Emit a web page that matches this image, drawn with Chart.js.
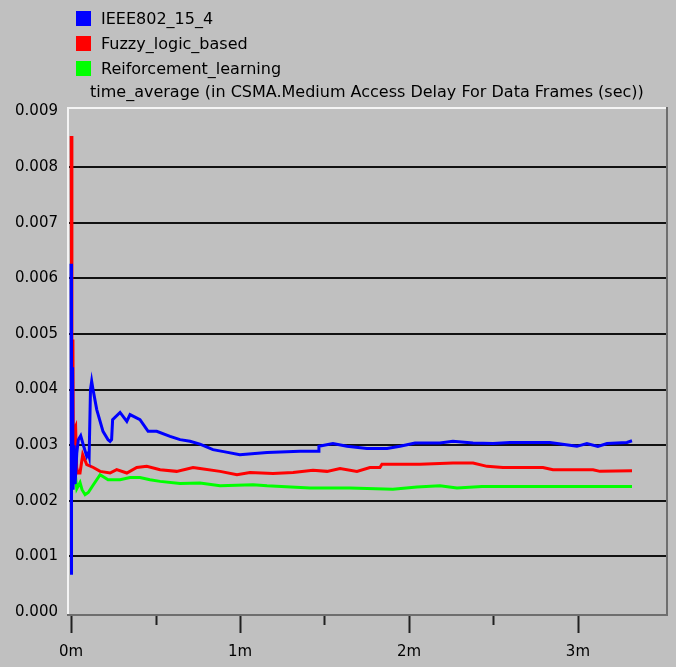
<!DOCTYPE html>
<html>
<head>
<meta charset="utf-8">
<script src="https://cdn.jsdelivr.net/npm/chart.js@4"></script>
<style>
  html,body{margin:0;padding:0;background:#c0c0c0;}
  #wrap{position:relative;width:676px;height:667px;}
  #legend{position:absolute;left:76px;top:6px;font-family:"DejaVu Sans",sans-serif;font-size:16px;color:#000;}
  .item{height:25px;display:flex;align-items:center;}
  .sw{width:15px;height:15px;margin-right:10px;}
  #ttl{position:absolute;left:90px;top:82px;font-family:"DejaVu Sans",sans-serif;font-size:16px;white-space:nowrap;}
</style>
</head>
<body>
<div id="wrap">
  <canvas id="c" width="676" height="667"></canvas>
  <div id="legend"></div>
  <div id="ttl">time_average (in CSMA.Medium Access Delay For Data Frames (sec))</div>
</div>
<script>
// series names / colours
const seriesNames = ['IEEE802_15_4','Fuzzy_logic_based','Reiforcement_learning'];
const seriesColors = ['#0000ff','#ff0000','#00ff00'];

// simulation time in minutes (sec)
const ieeeT = [0,0.0018,0.0036,0.006,0.009,0.012,0.018,0.024,0.034,0.043,0.057,0.073,0.093,0.102,0.107,0.115,0.122,0.130,0.152,0.189,0.219,0.231,0.240,0.246,0.290,0.330,0.349,0.408,0.456,0.507,0.586,0.645,0.704,0.763,0.840,0.911,0.999,1.160,1.355,1.462,1.467,1.550,1.633,1.751,1.870,1.947,2.036,2.183,2.260,2.379,2.497,2.598,2.834,2.994,3.053,3.118,3.172,3.290,3.320];
const ieeeV = [0.00626,0.00067,0.0031,0.0023,0.0044,0.0022,0.0030,0.0023,0.00286,0.0031,0.00317,0.0030,0.0028,0.00286,0.0028,0.0040,0.00415,0.0040,0.00364,0.00325,0.0031,0.00307,0.0031,0.00346,0.00359,0.00343,0.00355,0.00346,0.00325,0.00325,0.00316,0.0031,0.00307,0.00302,0.00292,0.00288,0.00283,0.00287,0.00289,0.00289,0.00298,0.00303,0.00298,0.00294,0.00294,0.00298,0.00304,0.00304,0.00307,0.00304,0.00303,0.00305,0.00305,0.00298,0.00303,0.00298,0.00303,0.00305,0.00308];

const fuzzyT = [0.001,0.005,0.011,0.014,0.021,0.027,0.033,0.041,0.053,0.069,0.093,0.132,0.172,0.231,0.270,0.330,0.389,0.448,0.527,0.625,0.722,0.763,0.882,0.982,1.059,1.195,1.314,1.432,1.515,1.592,1.692,1.769,1.828,1.840,2.065,2.260,2.379,2.462,2.556,2.793,2.852,3.089,3.130,3.320];
const fuzzyV = [0.00856,0.0030,0.0049,0.0027,0.0033,0.00334,0.0026,0.0025,0.0025,0.00283,0.00265,0.0026,0.00253,0.0025,0.00256,0.0025,0.0026,0.00262,0.00256,0.00253,0.0026,0.00258,0.00253,0.00247,0.00251,0.00249,0.00251,0.00255,0.00253,0.00258,0.00253,0.0026,0.0026,0.00266,0.00266,0.00268,0.00268,0.00262,0.0026,0.0026,0.00256,0.00256,0.00253,0.00254];

const rlT = [0.024,0.034,0.053,0.065,0.083,0.102,0.132,0.172,0.219,0.290,0.349,0.408,0.467,0.527,0.645,0.763,0.882,1.077,1.160,1.414,1.651,1.905,2.047,2.183,2.284,2.432,3.320];
const rlV = [0.0025,0.00222,0.00233,0.0022,0.00211,0.00215,0.00229,0.00247,0.00238,0.00238,0.00242,0.00242,0.00238,0.00235,0.00231,0.00232,0.00227,0.00229,0.00227,0.00223,0.00223,0.00221,0.00225,0.00227,0.00223,0.00226,0.00226];

const yTicks = [0,0.001,0.002,0.003,0.004,0.005,0.006,0.007,0.008,0.009];
const xMajor = [0,1,2,3];
const xMinor = [0.5,1.5,2.5];
const xLabels = ['0m','1m','2m','3m'];

function pts(t,v){ return t.map((x,i)=>({x:x,y:v[i]})); }

// legend
const lg = document.getElementById('legend');
seriesNames.forEach((n,i)=>{
  const d=document.createElement('div'); d.className='item';
  d.innerHTML='<span class="sw" style="background:'+seriesColors[i]+'"></span>'+n;
  lg.appendChild(d);
});

// frame + x tick marks
const framePlugin = {
  id:'frame',
  afterDraw(chart){
    const a=chart.chartArea, ctx=chart.ctx, xs=chart.scales.x;
    ctx.save();
    ctx.lineWidth=2;
    ctx.strokeStyle='#f4f4f4';
    ctx.beginPath(); ctx.moveTo(a.left+1,a.bottom); ctx.lineTo(a.left+1,a.top+1); ctx.lineTo(a.right,a.top+1); ctx.stroke();
    ctx.strokeStyle='#6e6e6e';
    ctx.beginPath(); ctx.moveTo(a.left,a.bottom-1); ctx.lineTo(a.right-1,a.bottom-1); ctx.lineTo(a.right-1,a.top); ctx.stroke();
    ctx.strokeStyle='#202020';
    xMajor.forEach(v=>{ const p=Math.round(xs.getPixelForValue(v))+0.5;
      ctx.beginPath(); ctx.moveTo(p,a.bottom); ctx.lineTo(p,a.bottom+17); ctx.stroke(); });
    xMinor.forEach(v=>{ const p=Math.round(xs.getPixelForValue(v))+0.5;
      ctx.beginPath(); ctx.moveTo(p,a.bottom); ctx.lineTo(p,a.bottom+9); ctx.stroke(); });
    ctx.restore();
  }
};

const tickFont = {family:'"DejaVu Sans", sans-serif', size:15};

new Chart(document.getElementById('c').getContext('2d'),{
  type:'line',
  data:{datasets:[
    {label:seriesNames[0],data:pts(ieeeT,ieeeV),borderColor:seriesColors[0]},
    {label:seriesNames[1],data:pts(fuzzyT,fuzzyV),borderColor:seriesColors[1]},
    {label:seriesNames[2],data:pts(rlT,rlV),borderColor:seriesColors[2]}
  ].map(d=>Object.assign(d,{borderWidth:3,pointRadius:0,tension:0,fill:false}))},
  options:{
    responsive:false, animation:false,
    layout:{padding:{left:0,top:107,right:8,bottom:0}},
    plugins:{legend:{display:false},tooltip:{enabled:false}},
    scales:{
      x:{type:'linear',min:-0.024,max:3.533,
        afterBuildTicks:ax=>{ ax.ticks = xMajor.map(v=>({value:v})); },
        afterFit:s=>{ s.height=51; },
        grid:{display:false,drawTicks:false},
        border:{display:false},
        ticks:{padding:27,color:'#000',font:tickFont,maxRotation:0,
          callback:(v)=>xLabels[xMajor.indexOf(v)]}
      },
      y:{type:'linear',min:-0.00007,max:0.00908,
        afterBuildTicks:ax=>{ ax.ticks = yTicks.map(v=>({value:v})); },
        afterFit:s=>{ s.width=67; },
        grid:{drawTicks:false,lineWidth:2,
          color:c=>(c.tick && c.tick.value>0 && c.tick.value<0.009)?'#111':'rgba(0,0,0,0)'},
        border:{display:false},
        ticks:{padding:9,color:'#000',font:tickFont,callback:v=>v.toFixed(3)}
      }
    }
  },
  plugins:[framePlugin]
});
</script>
</body>
</html>
